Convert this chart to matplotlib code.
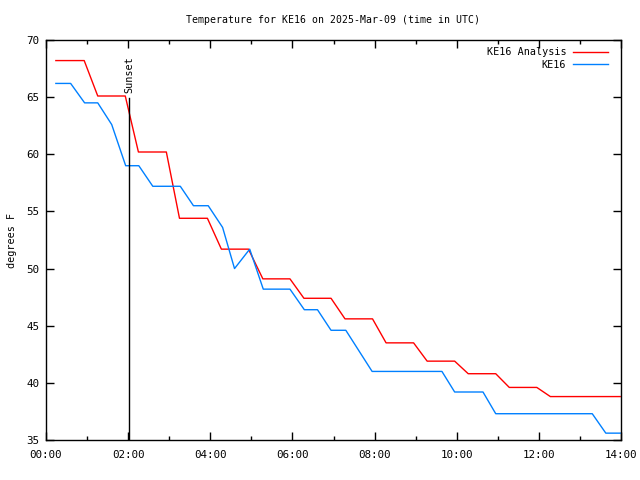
import matplotlib
matplotlib.use("Agg")
import matplotlib.pyplot as plt
from matplotlib.ticker import MultipleLocator, FuncFormatter

# Data (hours UTC, degrees F)
analysis_t = [0.24, 0.93, 1.26, 1.93, 2.25, 2.93, 3.25, 3.93, 4.27, 4.93, 5.28, 5.94,
              6.28, 6.94, 7.28, 7.95, 8.28, 8.95, 9.28, 9.95, 10.28, 10.95, 11.28,
              11.95, 12.28, 13.98]
analysis_v = [68.2, 68.2, 65.1, 65.1, 60.2, 60.2, 54.4, 54.4, 51.7, 51.7, 49.1, 49.1,
              47.4, 47.4, 45.6, 45.6, 43.5, 43.5, 41.9, 41.9, 40.8, 40.8, 39.6,
              39.6, 38.8, 38.8]
obs_t = [0.24, 0.6, 0.94, 1.26, 1.6, 1.94, 2.26, 2.6, 3.27, 3.59, 3.95, 4.3, 4.59,
         4.96, 5.29, 5.94, 6.29, 6.61, 6.94, 7.3, 7.94, 9.64, 9.95, 10.64, 10.95,
         13.3, 13.63, 13.98]
obs_v = [66.2, 66.2, 64.5, 64.5, 62.6, 59.0, 59.0, 57.2, 57.2, 55.5, 55.5, 53.6, 50.0,
         51.7, 48.2, 48.2, 46.4, 46.4, 44.6, 44.6, 41.0, 41.0, 39.2, 39.2, 37.3,
         37.3, 35.6, 35.6]
sunset_t = 2.03
sunset_top = 64.9

FONT = "DejaVu Sans Mono"
plt.rcParams['font.family'] = FONT

fig = plt.figure(figsize=(6.4, 4.8), dpi=100)
ax = fig.add_axes([46/640, 40/480, (621-46)/640, 400/480])

ax.plot(analysis_t, analysis_v, color='#ff0000', lw=1.0, label='KE16 Analysis')
ax.plot(obs_t, obs_v, color='#0080ff', lw=1.0, label='KE16')
ax.plot([sunset_t, sunset_t], [35, sunset_top], color='black', lw=1.0)
ax.text(sunset_t, sunset_top + 0.5, 'Sunset', rotation=90, ha='center', va='bottom',
        fontsize=7.3)

ax.set_xlim(0, 14)
ax.set_ylim(35, 70)
ax.xaxis.set_major_locator(MultipleLocator(2))
ax.xaxis.set_minor_locator(MultipleLocator(1))
ax.yaxis.set_major_locator(MultipleLocator(5))
ax.xaxis.set_major_formatter(FuncFormatter(lambda v, p: "%02d:00" % int(round(v))))
ax.tick_params(which='both', direction='in', top=True, right=True, labelsize=7.8,
               width=1.0)
ax.tick_params(which='major', length=6)
ax.tick_params(axis='x', which='major', pad=7)
ax.tick_params(axis='y', which='major', pad=5)
ax.tick_params(which='minor', length=3)
for s in ax.spines.values():
    s.set_linewidth(1.0)

ax.set_title('Temperature for KE16 on 2025-Mar-09 (time in UTC)', fontsize=7.1, pad=12.5)
ax.set_ylabel('degrees F', fontsize=7.3)
ax.yaxis.set_label_coords(-0.05, 0.5)

leg = ax.legend(loc='upper right', frameon=False, fontsize=7.3, markerfirst=False,
                handlelength=3.4, handletextpad=0.7, labelspacing=0.25,
                borderaxespad=0.5, bbox_to_anchor=(0.993, 1.005))
for t in leg.get_texts():
    t.set_ha('right')

fig.savefig('out.png', dpi=100)
